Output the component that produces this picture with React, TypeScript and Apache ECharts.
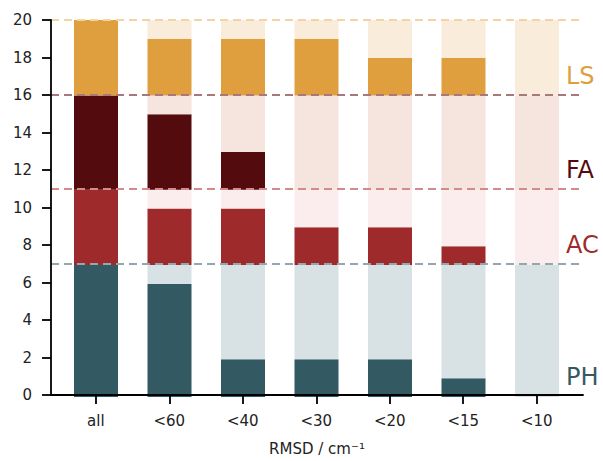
import React, { useEffect, useRef } from "react";
import * as echarts from "echarts";

const categories = ["all", "<60", "<40", "<30", "<20", "<15", "<10"];
const phValues = [7, 6, 2, 2, 2, 1, 0];
const acValues = [4, 3, 3, 2, 2, 1, 0];
const faValues = [5, 4, 2, 0, 0, 0, 0];
const lsValues = [4, 3, 3, 3, 2, 2, 0];
const groupNames = ["PH", "AC", "FA", "LS"];
const tickPositions = [0, 1, 2, 3, 4, 5, 6];

const FONT = "DejaVu Sans";

export default function App() {
  const ref = useRef<HTMLDivElement>(null);
  useEffect(() => {
    if (!ref.current) return;
    const chart = echarts.init(ref.current, null, { renderer: "svg" });
    const groups = [
      { vals: phValues, solid: "#335a63", faded: "#d8e2e5", line: "#93a8ae" },
      { vals: acValues, solid: "#9e2a2b", faded: "#fbeded", line: "#d48a8b" },
      { vals: faValues, solid: "#540b0e", faded: "#f6e4de", line: "#a8787c" },
      { vals: lsValues, solid: "#e09f3e", faded: "#f9ecda", line: "#f4d3a4" },
    ];
    const series: any[] = [];
    let cum = 0;
    groups.forEach((g, gi) => {
      const total = g.vals[0];
      series.push({
        type: "bar",
        name: groupNames[gi] + " solid",
        stack: "s",
        barWidth: 44,
        xAxisIndex: 1,
        yAxisIndex: 1,
        itemStyle: { color: g.solid },
        data: g.vals,
      });
      series.push({
        type: "bar",
        name: groupNames[gi] + " faded",
        stack: "s",
        barWidth: 44,
        xAxisIndex: 1,
        yAxisIndex: 1,
        itemStyle: { color: g.faded },
        data: g.vals.map((v) => total - v),
      });
      cum += total;
      series.push({
        type: "line",
        xAxisIndex: 0,
        yAxisIndex: 0,
        data: [],
        z: 10,
        markLine: {
          silent: true,
          symbol: "none",
          label: { show: false },
          lineStyle: { color: g.line, type: [8, 5], width: 2 },
          data: [{ yAxis: cum }],
        },
      });
    });
    const yPix = (v: number) => 397 - v * 18.85;
    const labelPos = [1, 8, 12, 17];
    chart.setOption({
      animation: false,
      grid: [
        { left: 51, right: 20, top: 20, bottom: 64 },
        { left: 59.25, right: 29.25, top: 20, bottom: 64 },
      ],
      xAxis: [
        {
          type: "value",
          gridIndex: 0,
          min: -0.61,
          max: 6.63,
          splitLine: { show: false },
          axisLine: { show: true, onZero: false, lineStyle: { color: "#000", width: 1.8 } },
          axisTick: { show: true, customValues: tickPositions, length: 9, lineStyle: { color: "#000", width: 1.8 } },
          axisLabel: {
            customValues: tickPositions,
            formatter: (v: number) => categories[Math.round(v)],
            fontFamily: FONT,
            fontSize: 15,
            color: "#222",
            margin: 18,
          },
          name: "RMSD / cm⁻¹",
          nameLocation: "middle",
          nameGap: 46,
          nameTextStyle: { fontFamily: FONT, fontSize: 15, color: "#222" },
          z: 20,
        },
        {
          type: "category",
          gridIndex: 1,
          data: categories,
          show: false,
        },
      ],
      yAxis: [
        {
          type: "value",
          gridIndex: 0,
          min: 0,
          max: 20,
          interval: 2,
          splitLine: { show: false },
          axisLine: { show: true, onZero: false, lineStyle: { color: "#000", width: 1.8 } },
          axisTick: { show: true, length: 9, lineStyle: { color: "#000", width: 1.8 } },
          axisLabel: {
            fontFamily: FONT,
            fontSize: 15,
            color: "#222",
            margin: 19,
          },
          z: 20,
        },
        {
          type: "value",
          gridIndex: 1,
          min: 0,
          max: 20,
          show: false,
        },
      ],
      series,
      graphic: groups.map((g, i) => ({
        type: "text",
        left: 566,
        top: yPix(labelPos[i]) - 13,
        style: {
          text: groupNames[i],
          fill: g.solid,
          font: `24px "${FONT}"`,
        },
      })),
    });
    return () => chart.dispose();
  }, []);
  return <div ref={ref} style={{ width: 603, height: 461, position: "absolute", left: 0, top: 0 }} />;
}
